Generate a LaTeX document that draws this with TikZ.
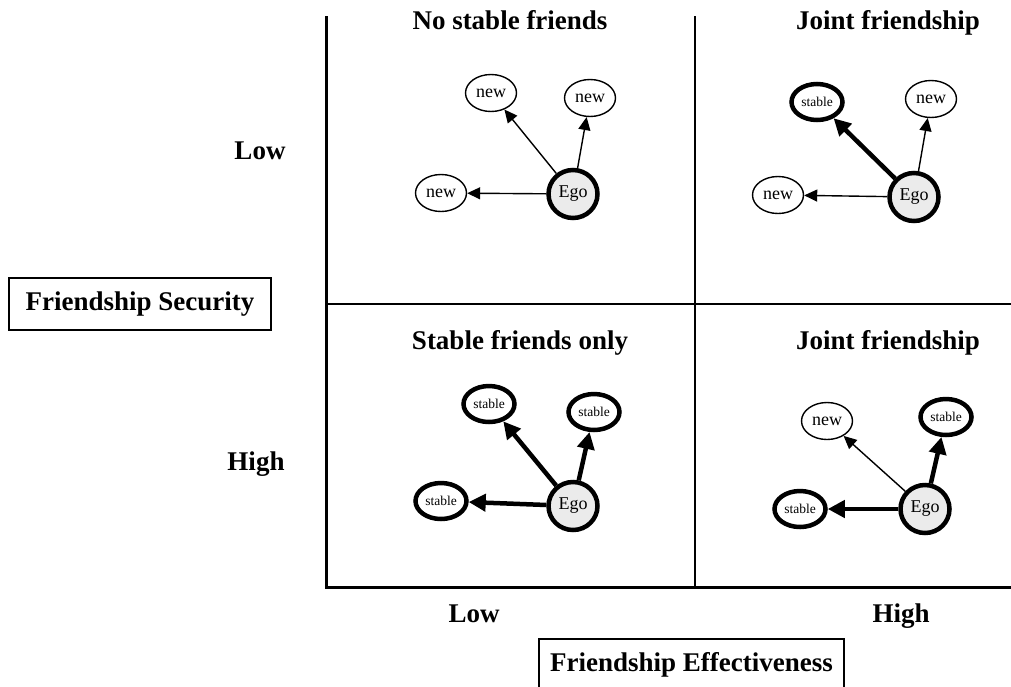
\documentclass[tikz,border=0pt]{standalone}
\usepackage{fontspec}
\setmainfont{Liberation Serif}
\usetikzlibrary{arrows.meta,shapes.geometric}

\begin{document}
\begin{tikzpicture}[x=1pt,y=-1pt,
    friendnode/.style={ellipse,draw,line width=1.4pt,inner sep=0pt,minimum width=51pt,minimum height=37pt,font=\fontsize{18}{18}\selectfont},
    stablenode/.style={friendnode,line width=4.5pt,minimum width=51pt,minimum height=36pt,font=\fontsize{13.5}{14}\selectfont},
    egonode/.style={friendnode,line width=4.5pt,fill=black!8,minimum width=49pt,minimum height=48pt},
    weaklink/.style={line width=1.4pt,-{Triangle[length=13pt,width=12pt]}},
    stronglink/.style={line width=4.5pt,-{Triangle[length=17pt,width=17pt]}},
    headlabel/.style={anchor=base,font=\fontsize{27}{30}\selectfont\bfseries},
    axisbox/.style={draw,line width=1.2pt,minimum height=52pt,inner sep=0pt,font=\fontsize{27}{30}\selectfont\bfseries}]
      \useasboundingbox (0,0) rectangle (1011,686);
      \draw[line width=3pt] (326,16) -- (326,587) -- (1011,587);
      \draw[line width=2pt] (326,304) -- (1011,304);
      \draw[line width=2pt] (695,16) -- (695,587);

      \node[headlabel] (tlow) at (260,159) {Low};
      \node[headlabel] (thigh) at (256,470) {High};
      \node[headlabel] (blow) at (474,622) {Low};
      \node[headlabel] (bhigh) at (901,622) {High};
      \node[axisbox,minimum width=262pt] (security) at (140,304) {Friendship Security};
      \node[axisbox,minimum width=305pt] (effect) at (691.5,665) {Friendship Effectiveness};

      \node[headlabel] (title1) at (510,29) {No stable friends};
      \node[headlabel] (title2) at (888,29) {Joint friendship};
      \node[headlabel] (title3) at (520,349) {Stable friends only};
      \node[headlabel] (title4) at (888,349) {Joint friendship};

      \node[friendnode] (n1a) at (491,93) {new};
      \node[friendnode] (n1b) at (590,98) {new};
      \node[friendnode] (n1c) at (441,193) {new};
      \node[egonode] (e1) at (573,194) {Ego};
      \draw[weaklink] (e1) -- (n1a);
      \draw[weaklink] (e1) -- (n1b);
      \draw[weaklink] (e1) -- (n1c);

      \node[stablenode] (s2a) at (817,102) {stable};
      \node[friendnode] (n2b) at (931,99) {new};
      \node[friendnode] (n2c) at (778,195) {new};
      \node[egonode] (e2) at (914,197) {Ego};
      \draw[stronglink] (e2) -- (s2a);
      \draw[weaklink] (e2) -- (n2b);
      \draw[weaklink] (e2) -- (n2c);

      \node[stablenode] (s3a) at (489,404) {stable};
      \node[stablenode] (s3b) at (594,412) {stable};
      \node[stablenode] (s3c) at (441,501) {stable};
      \node[egonode] (e3) at (573,506) {Ego};
      \draw[stronglink] (e3) -- (s3a);
      \draw[stronglink] (e3) -- (s3b);
      \draw[stronglink] (e3) -- (s3c);

      \node[friendnode] (n4a) at (827,421) {new};
      \node[stablenode] (s4b) at (946,417) {stable};
      \node[stablenode] (s4c) at (800,509) {stable};
      \node[egonode] (e4) at (925,509) {Ego};
      \draw[weaklink] (e4) -- (n4a);
      \draw[stronglink] (e4) -- (s4b);
      \draw[stronglink] (e4) -- (s4c);
\end{tikzpicture}
\end{document}
